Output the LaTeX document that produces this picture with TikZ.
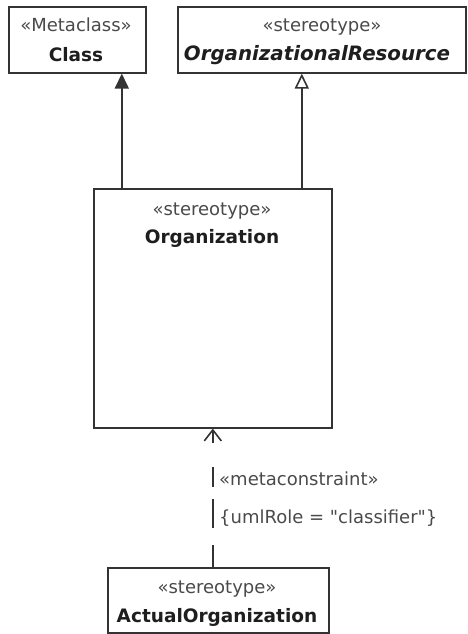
\documentclass[tikz,border=0pt]{standalone}
\usepackage{fontspec}
\setmainfont{DejaVu Sans}[Ligatures=TeXOff]
\usetikzlibrary{arrows.meta}
\definecolor{boxline}{HTML}{333333}
\definecolor{stereotxt}{HTML}{4A4A4A}
\definecolor{nametxt}{HTML}{1E1E1E}
\begin{document}
\begin{tikzpicture}[x=1pt,y=-1pt,
  umlbox/.style={draw=boxline, line width=1.6pt, fill=white, anchor=north west, inner sep=0pt},
  stereo/.style={anchor=base, inner sep=0pt, text=stereotxt, font=\fontsize{18}{20}\selectfont},
  umlname/.style={anchor=base, inner sep=0pt, text=nametxt, font=\fontsize{18.5}{20}\selectfont\bfseries},
  lbl/.style={anchor=base west, inner sep=0pt, text=stereotxt, font=\fontsize{18}{20}\selectfont},
  conn/.style={draw=boxline, line width=1.6pt}]
\useasboundingbox (0,0) rectangle (467,634);
% boxes
\node[umlbox, minimum width=137pt, minimum height=66pt] (cls) at (8,6) {};
\node[umlbox, minimum width=288pt, minimum height=66pt] (res) at (177,6) {};
\node[umlbox, minimum width=238pt, minimum height=239pt] (org) at (93,188) {};
\node[umlbox, minimum width=221pt, minimum height=65pt] (act) at (107,567) {};
% texts
\node[stereo] (clsS) at (76,32) {«Metaclass»};
\node[umlname] (clsN) at (76,62) {Class};
\node[stereo] (resS) at (322,32) {«stereotype»};
\node[umlname, font=\fontsize{19.8}{22}\selectfont\bfseries\itshape] (resN) at (317,60) {OrganizationalResource};
\node[stereo] (orgS) at (212,215) {«stereotype»};
\node[umlname] (orgN) at (212,243) {Organization};
\node[stereo] (actS) at (217,593) {«stereotype»};
\node[umlname] (actN) at (217,622) {ActualOrganization};
% connectors
\draw[conn, -{Triangle[length=15pt,width=14pt,fill=boxline]}] ([xshift=-91pt]org.north) coordinate (g1) -- (g1 |- cls.south);
\draw[conn, -{Triangle[open,length=15pt,width=14pt,fill=white]}] ([xshift=89pt]org.north) coordinate (g2) -- (g2 |- res.south);
\draw[conn, dash pattern=on 22pt off 17pt on 29pt off 12pt on 20pt off 24pt on 30pt, -{Straight Barb[length=11pt,width=17pt]}] (act.north -| org.south) -- (org.south);
\node[lbl] (mc) at (219,485) {«metaconstraint»};
\node[lbl] (ur) at (219,523) {\{umlRole = "classifier"\}};
\end{tikzpicture}
\end{document}
